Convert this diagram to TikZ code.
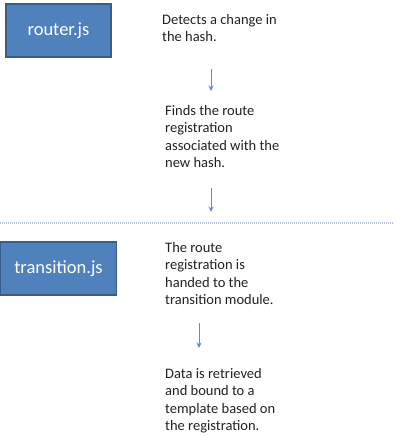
\documentclass[tikz,border=0pt]{standalone}
\usepackage{fontspec}
\setmainfont{Carlito}
\usetikzlibrary{arrows.meta}
\definecolor{boxfill}{HTML}{4F81BD}
\definecolor{boxdraw}{HTML}{385D8A}
\definecolor{arrowcol}{HTML}{6A8BBE}
\definecolor{sepcol}{HTML}{B4C2D8}
\definecolor{txtcol}{HTML}{222222}
\tikzset{
  modbox/.style={draw=boxdraw, fill=boxfill, line width=1.3pt, text=white, inner sep=0pt,
    minimum height=53pt, font=\fontsize{18.5}{22}\selectfont},
  steptext/.style={anchor=north west, inner sep=0pt, align=left, text=txtcol, font=\fontsize{14.5}{17.5}\selectfont},
  flowarrow/.style={draw=arrowcol, line width=0.8pt, -{Stealth[length=5.5pt,width=5pt]}},
  separator/.style={draw=sepcol, line width=1.2pt, dash pattern=on 1.2pt off 0.8pt}
}
\begin{document}
\begin{tikzpicture}[x=1pt,y=-1pt]
\useasboundingbox (0,0) rectangle (395,437);
\node[modbox, minimum width=105pt] (router) at (58.5,30.5) {router.js};
\node[modbox, minimum width=116pt] (transition) at (58.5,268.5) {transition.js};

\node[steptext] (t1) at (162,14) {Detects a change in\\the hash.};
\node[steptext] (t2) at (165,105) {Finds the route\\registration\\associated with the\\new hash.};
\node[steptext] (t3) at (165,242) {The route\\registration is\\handed to the\\transition module.};
\node[steptext] (t4) at (165,368) {Data is retrieved\\and bound to a\\template based on\\the registration.};

\coordinate (a1s) at (211,69);
\coordinate (a1e) at (211,91);
\coordinate (a2s) at (211,188);
\coordinate (a2e) at (211,212);
\coordinate (a3s) at (199,323);
\coordinate (a3e) at (199,348);
\draw[flowarrow] (a1s) -- (a1e);
\draw[flowarrow] (a2s) -- (a2e);
\draw[flowarrow] (a3s) -- (a3e);

\coordinate (sepl) at (0,223);
\coordinate (sepr) at (393,223);
\draw[separator] (sepl) -- (sepr);
\end{tikzpicture}
\end{document}
